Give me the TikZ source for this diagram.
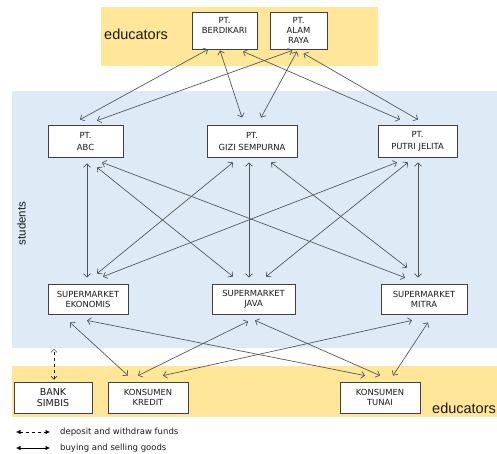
\documentclass[tikz,border=0pt]{standalone}
\usepackage{fontspec}
\setmainfont{DejaVu Sans}
\newfontfamily\rolefont{Liberation Sans}
\usetikzlibrary{arrows.meta}
\definecolor{bandyellow}{HTML}{FFE699}
\definecolor{bandblue}{HTML}{DEEBF7}
\definecolor{linkgray}{HTML}{505050}
\definecolor{boxgray}{HTML}{404040}
\definecolor{textgray}{HTML}{1A1A1A}

\begin{document}
\begin{tikzpicture}[x=1pt,y=-1pt,
  firm/.style={draw=boxgray,line width=0.8pt,fill=white,align=center,inner sep=0pt,text=textgray,font=\fontsize{8.4}{10}\selectfont},
  link/.style={draw=linkgray,line width=0.65pt,{Straight Barb[length=3.5pt,width=7pt]}-{Straight Barb[length=3.5pt,width=7pt]}},
  fund/.style={draw=textgray,line width=0.5pt,dashed,{Straight Barb[length=3pt,width=6pt]}-{Straight Barb[length=3pt,width=6pt]}},
  keyline/.style={draw=black,line width=0.6pt,{Latex[length=4.5pt,width=4.5pt]}-{Latex[length=4.5pt,width=4.5pt]}},
  role/.style={font=\rolefont\fontsize{14.5}{16}\selectfont,inner sep=0pt,anchor=base west,text=textgray}]
\useasboundingbox (0,0) rectangle (497,454);
\fill[bandyellow] (101,7) rectangle (378,66);
\fill[bandblue] (12,91) rectangle (497,348);
\fill[bandyellow] (12,366) rectangle (497,417);

\node[role] (edutop) at (104,40) {educators};
\node[role] (edubot) at (432,413) {educators};
\node[font=\rolefont\fontsize{11.5}{13}\selectfont,rotate=90,inner sep=0pt,text=textgray] (stud) at (21.5,223.5) {students};

% suppliers
\node[firm,minimum width=65pt,minimum height=37pt] (berd) at (224.5,30.5) {PT.\\BERDIKARI\\~};
\node[firm,minimum width=57pt,minimum height=37pt] (alam) at (298.5,30.5) {PT.\\ALAM\\RAYA};

% producers
\node[firm,minimum width=75pt,minimum height=32pt,font=\fontsize{8.4}{12}\selectfont] (abc) at (85.5,141) {PT.\\ABC};
\node[firm,minimum width=90pt,minimum height=32pt,font=\fontsize{8.4}{12}\selectfont] (gizi) at (252,141) {PT.\\GIZI SEMPURNA};
\node[firm,minimum width=79pt,minimum height=32pt,font=\fontsize{8.4}{12}\selectfont] (putri) at (417.5,141) {PT.\\PUTRI JELITA};

% retailers
\node[firm,minimum width=80pt,minimum height=30pt] (ekon) at (88,299) {SUPERMARKET\\EKONOMIS};
\node[firm,minimum width=83pt,minimum height=30pt] (java) at (253.5,299) {SUPERMARKET\\JAVA};
\node[firm,minimum width=86pt,minimum height=30pt] (mitra) at (424,299) {SUPERMARKET\\MITRA};

% consumers and bank
\node[firm,minimum width=78pt,minimum height=31pt,font=\fontsize{9.5}{11.5}\selectfont] (bank) at (53,397.5) {BANK\\SIMBIS};
\node[firm,minimum width=80pt,minimum height=31pt] (kredit) at (148,397.5) {KONSUMEN\\KREDIT};
\node[firm,minimum width=80pt,minimum height=31pt] (tunai) at (380,397.5) {KONSUMEN\\TUNAI};

% suppliers -- producers
\draw[link] ([xshift=-16.5pt]berd.south) -- ([xshift=-5.5pt,yshift=5pt]abc.north);
\draw[link] ([xshift=-4.5pt,yshift=-1pt]berd.south) -- ([xshift=-10pt,yshift=7pt]gizi.north);
\draw[link] ([xshift=18.5pt,yshift=-2pt]berd.south) -- ([xshift=-17.5pt,yshift=5pt]putri.north);
\draw[link] ([xshift=-6pt,yshift=-1pt]alam.south) -- ([xshift=11.5pt,yshift=4pt]abc.north);
\draw[link] ([xshift=-1.5pt,yshift=-2pt]alam.south) -- ([xshift=9pt,yshift=7pt]gizi.north);
\draw[link] ([xshift=5pt,yshift=-4pt]alam.south) -- ([xshift=0.5pt,yshift=5pt]putri.north);

% producers -- retailers
\draw[link] ([xshift=1.5pt,yshift=-6pt]abc.south) -- ([xshift=-1pt,yshift=6pt]ekon.north);
\draw[link] ([xshift=11.5pt,yshift=-10pt]abc.south) -- ([xshift=-20.5pt,yshift=7pt]java.north);
\draw[link] ([xshift=16.5pt,yshift=-5pt]abc.south) -- ([xshift=-19pt,yshift=6pt]mitra.north);
\draw[link] ([xshift=-19pt,yshift=-5pt]gizi.south) -- ([xshift=9pt,yshift=10pt]ekon.north);
\draw[link] ([xshift=-3pt,yshift=-5pt]gizi.south) -- ([xshift=-4.5pt,yshift=6pt]java.north);
\draw[link] ([xshift=19pt,yshift=-5pt]gizi.south) -- ([xshift=-17pt,yshift=16pt]mitra.north);
\draw[link] ([xshift=-20.5pt,yshift=-5pt]putri.south) -- ([xshift=15pt,yshift=7pt]ekon.north);
\draw[link] ([xshift=-9.5pt,yshift=-5pt]putri.south) -- ([xshift=12.5pt,yshift=7pt]java.north);
\draw[link] ([xshift=0.5pt,yshift=-5pt]putri.south) -- ([xshift=-6pt,yshift=6pt]mitra.north);

% retailers -- consumers
\draw[link] ([xshift=-18pt,yshift=-8pt]ekon.south) -- ([xshift=-20pt,yshift=6pt]kredit.north);
\draw[link] ([xshift=-1pt,yshift=-6pt]ekon.south) -- ([xshift=-15pt,yshift=6pt]tunai.north);
\draw[link] ([xshift=-5.5pt,yshift=-7pt]java.south) -- ([xshift=-10pt,yshift=6pt]kredit.north);
\draw[link] ([xshift=1.5pt,yshift=-6pt]java.south) -- ([yshift=6pt]tunai.north);
\draw[link] ([xshift=-12pt,yshift=-6pt]mitra.south) -- ([xshift=15pt,yshift=6pt]kredit.north);
\draw[link] ([xshift=4pt,yshift=-8pt]mitra.south) -- ([xshift=13pt,yshift=6pt]tunai.north);

% bank
\coordinate (studedge) at (54,349);
\draw[fund] ([xshift=1pt,yshift=2pt]bank.north) -- (studedge);

% key
\coordinate (keyAl) at (16,432);
\coordinate (keyAr) at (50,432);
\coordinate (keyBl) at (16,448);
\coordinate (keyBr) at (50,448);
\draw[keyline,dashed] (keyAl) -- (keyAr);
\draw[keyline] (keyBl) -- (keyBr);
\node[anchor=west,inner sep=0pt,text=textgray,font=\fontsize{8.5}{10}\selectfont] (keyA) at (60,432) {deposit and withdraw funds};
\node[anchor=west,inner sep=0pt,text=textgray,font=\fontsize{8.5}{10}\selectfont] (keyB) at (60,448) {buying and selling goods};
\end{tikzpicture}
\end{document}
